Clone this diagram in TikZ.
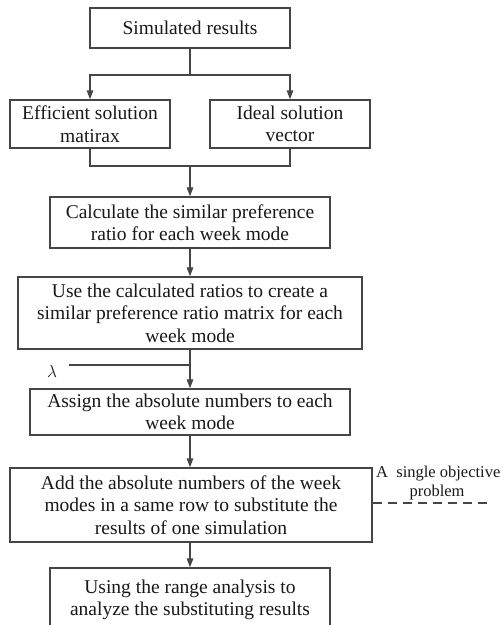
\documentclass[tikz,border=0pt]{standalone}
\usepackage{fontspec}
\setmainfont{Liberation Serif}
\usetikzlibrary{arrows.meta}
\definecolor{linec}{HTML}{454545}
\begin{document}
\begin{tikzpicture}[x=1pt,y=-1pt,
  every node/.style={text=black!90},
  box/.style={draw=linec, line width=1.3pt, fill=white, align=center, inner sep=0pt,
    font=\fontsize{19.5}{22.5}\selectfont},
  conn/.style={draw=linec, line width=1.3pt},
  arr/.style={conn, -{Triangle[length=9pt,width=6.5pt]}},
  lab/.style={inner sep=0pt, font=\fontsize{16.5}{19}\selectfont}]
\useasboundingbox (0,0) rectangle (501,625);
\begin{scope}
\clip (0,0) rectangle (501,625);
\node[box, minimum width=200pt, minimum height=40pt] (sim) at (190,28) {Simulated results};
\node[box, minimum width=160pt, minimum height=48pt] (eff) at (90,124) {Efficient solution\\matirax};
\node[box, minimum width=160pt, minimum height=48pt] (ideal) at (290,124) {Ideal solution\\vector};
\node[box, minimum width=280pt, minimum height=51pt] (calc) at (190,222.5) {Calculate the similar preference\\ratio for each week mode};
\node[box, minimum width=344pt, minimum height=72pt] (use) at (190,313) {Use the calculated ratios to create a\\similar preference ratio matrix for each\\week mode};
\node[box, minimum width=320pt, minimum height=46pt] (assign) at (190,412) {Assign the absolute numbers to each\\week mode};
\node[box, minimum width=362pt, minimum height=74pt] (add) at (191,505) {Add the absolute numbers of the week\\modes in a same row to substitute the\\results of one simulation};
\node[box, minimum width=280pt, minimum height=64pt] (using) at (190,600) {Using the range analysis to\\analyze the substituting results};

\coordinate (b1) at (190,75);
\draw[conn] (sim.south) -- (b1);
\draw[arr] (b1) -| (eff.north);
\draw[arr] (b1) -| (ideal.north);
\coordinate (j) at (190,166);
\draw[conn] (eff.south) |- (j) -| (ideal.south);
\draw[arr] (j) -- (calc.north);
\draw[arr] (calc.south) -- (use.north);
\draw[arr] (use.south) -- (assign.north);
\coordinate (lamS) at (69,365);
\coordinate (lamE) at (190,365);
\draw[conn] (lamS) -- (lamE);
\node[inner sep=0pt, font=\fontsize{19}{22}\selectfont] (lam) at (52,371) {$\lambda$};
\draw[arr] (assign.south) -- (assign.south |- add.north);
\draw[arr] (using.north |- add.south) -- (using.north);
\coordinate (dS) at (add.east |- 0,503);
\coordinate (dE) at (488,503);
\draw[conn, line width=1.1pt, dash pattern=on 9pt off 6pt] (dS) -- (dE);
\node[lab, anchor=west] (l1) at (376,474) {A\ \ single objective};
\node[lab] (l2) at (437,493) {problem};
\end{scope}
\end{tikzpicture}
\end{document}
